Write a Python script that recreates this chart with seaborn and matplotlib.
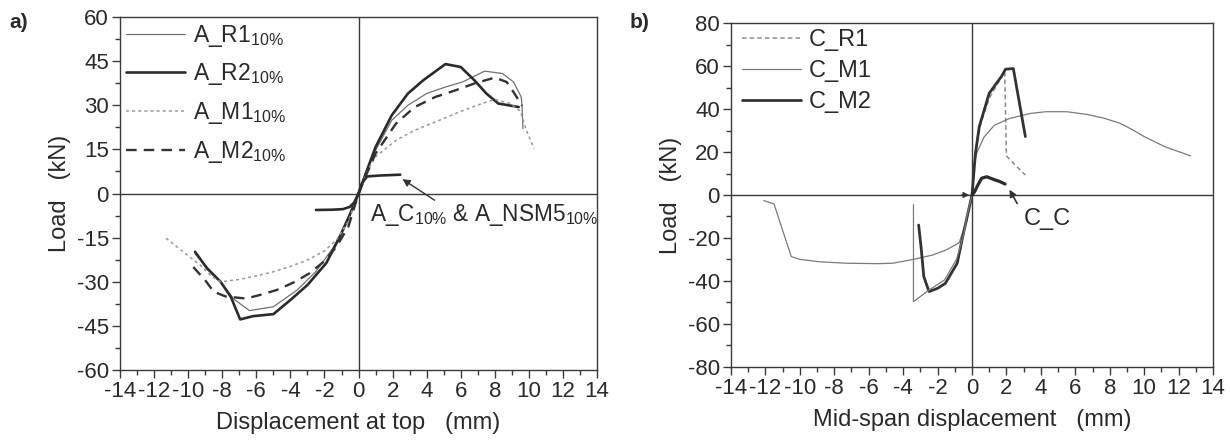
import matplotlib
matplotlib.use("Agg")
import matplotlib.pyplot as plt
import seaborn as sns
from matplotlib.ticker import MultipleLocator

# -----------------------------------
# DATA
# -----------------------------------

# panel a) displacement at top (mm) / load (kN)
a_r1_x = [-9.6, -8.9, -8.1, -7.3, -6.4, -5.0, -3.6, -2.5, -1.5, -0.7, 0, 0.4, 1.0, 1.95, 2.9, 4.0, 5.1, 6.1, 7.4, 8.45, 9.1, 9.55, 9.6, 9.65]
a_r1_y = [-20.5, -25, -30, -36, -39.8, -38.5, -32.8, -26.5, -18.5, -10, 0, 7, 14.7, 24.9, 30, 34, 36.2, 37.9, 41.6, 40.8, 37.9, 32.8, 29.4, 22]

a_r2_x = [-9.6, -8.9, -8.1, -7.5, -6.95, -6.2, -5.0, -4.0, -3.0, -1.9, -1.1, -0.5, 0, 0.5, 1.0, 1.95, 2.9, 3.8, 5.1, 6.0, 6.8, 7.5, 8.2, 9.4]
a_r2_y = [-19.8, -25.4, -30, -35.1, -42.8, -41.7, -41, -36.2, -31.1, -23.7, -14.7, -7, 0, 8, 15.8, 26.6, 34, 38.5, 44, 43, 38.5, 34, 30.6, 29.4]

a_m1_x = [-11.3, -10.3, -9.3, -8.6, -8.1, -7.0, -6.0, -5.0, -4.0, -3.0, -2.0, -1.3, -0.6, 0, 0.5, 1.0, 2.2, 3.3, 4.5, 5.7, 6.8, 8.0, 8.9, 9.5, 9.85, 10.3]
a_m1_y = [-15.2, -19.8, -24.3, -28.3, -30, -29.2, -28, -26.6, -24.8, -22.6, -19.5, -15.8, -9.5, 0, 7.5, 12.5, 18.1, 21.5, 24.3, 27.2, 29.7, 32.0, 30.6, 28.0, 21.5, 15.3]

a_m2_x = [-9.7, -9.0, -8.5, -7.8, -6.6, -5.8, -4.8, -3.8, -2.9, -2.0, -1.3, -0.6, 0, 0.5, 1.0, 2.2, 3.3, 4.5, 5.7, 6.8, 8.0, 8.7, 9.15, 9.6]
a_m2_y = [-25, -29.5, -33.4, -35, -35.7, -34.5, -32.8, -30.2, -27.2, -23, -18.1, -11.3, 0, 7, 13.6, 23.8, 29.4, 32.8, 35.1, 37.4, 39.4, 37.9, 34, 29.8]

a_c_x = [-2.5, -1.5, -0.9, -0.5, -0.25, 0, 0.2, 0.5, 1.2, 2.45]
a_c_y = [-5.6, -5.5, -5.3, -4.5, -3.0, 0, 3.5, 5.8, 6.1, 6.4]

# panel b) mid-span displacement (mm) / load (kN)
c_r1_pos_x = [0, 0.2, 0.5, 1.0, 1.5, 1.9, 2.0, 2.5, 3.1]
c_r1_pos_y = [0, 20, 33, 45, 52, 57.5, 18.2, 14, 9.3]

c_r1_neg_x = [0, -0.3, -0.5, -0.9, -1.6, -2.5, -3.4, -3.4]
c_r1_neg_y = [0, -10, -19, -30, -39.6, -44.3, -49.7, -4.5]

c_m1_x = [-12.1, -11.5, -10.5, -10.0, -8.9, -7.3, -5.5, -4.6, -3.4, -2.3, -1.5, -0.75, -0.3, 0, 0.1, 0.3, 0.7, 1.3, 2.2, 3.4, 4.3, 5.5, 6.7, 7.7, 8.6, 9.3, 10.0, 11.2, 12.7]
c_m1_y = [-2.6, -4.2, -28.7, -30, -31.1, -31.8, -32, -31.8, -30, -28, -25.6, -22.3, -12, 0, 14, 20, 27, 32.5, 35.7, 38, 38.8, 38.8, 37.5, 35.7, 33.4, 30.5, 27.2, 22.5, 18.2]

c_m2_x = [-3.1, -2.95, -2.8, -2.5, -2.0, -1.55, -0.86, -0.5, 0, 0.2, 0.42, 1.0, 1.7, 1.95, 2.4, 3.1]
c_m2_y = [-14, -25, -38, -45, -43.5, -41.2, -31.8, -17.9, 0, 19.4, 31.8, 47.4, 55.1, 58.6, 58.9, 27.2]

c_c_x = [0, 0.15, 0.3, 0.56, 0.85, 1.24, 1.63, 1.92]
c_c_y = [0, 1.5, 4, 7.8, 8.5, 7.3, 6.2, 5.1]

a_labels = ["A_R1$_{10\\%}$", "A_R2$_{10\\%}$", "A_M1$_{10\\%}$", "A_M2$_{10\\%}$"]
b_labels = ["C_R1", "C_M1", "C_M2"]

# -----------------------------------
# STYLE
# -----------------------------------

sns.set_theme(style="white")
plt.rcParams["font.family"] = ["Liberation Sans", "DejaVu Sans"]
plt.rcParams["mathtext.fontset"] = "custom"
plt.rcParams["mathtext.rm"] = "Liberation Sans"
plt.rcParams["mathtext.it"] = "Liberation Sans:italic"
plt.rcParams["axes.unicode_minus"] = False
plt.rcParams["text.color"] = "#2a2a2a"
plt.rcParams["axes.labelcolor"] = "#2a2a2a"

AX = "#3a3a3a"

fig = plt.figure(figsize=(12.3, 4.45), dpi=100)
ax1 = fig.add_axes([0.0976, 0.1685, 0.3878, 0.7933])
ax2 = fig.add_axes([0.5943, 0.176, 0.3919, 0.7717])


def line(ax, x, y, color, lw, ls="-"):
    sns.lineplot(x=x, y=y, ax=ax, sort=False, estimator=None,
                 color=color, linewidth=lw, linestyle=ls)
    return ax.lines[-1]


def frame(ax, ymax, ystep):
    ax.set_xlim(-14, 14)
    ax.set_ylim(-ymax, ymax)
    ax.xaxis.set_major_locator(MultipleLocator(2))
    ax.xaxis.set_minor_locator(MultipleLocator(1))
    ax.yaxis.set_major_locator(MultipleLocator(ystep))
    ax.yaxis.set_minor_locator(MultipleLocator(ystep / 2))
    ax.tick_params(which="both", direction="out", color=AX, width=1,
                   bottom=True, left=True, labelsize=16, labelcolor="#2a2a2a", pad=2)
    ax.tick_params(which="major", length=6)
    ax.tick_params(which="minor", length=3.5)
    for s in ax.spines.values():
        s.set_color(AX)
        s.set_linewidth(1)
    ax.axhline(0, color=AX, lw=1, zorder=1)
    ax.axvline(0, color=AX, lw=1, zorder=1)
    ax.set_ylabel("Load   (kN)", fontsize=17, labelpad=4)


# -----------------------------------
# PANEL a)
# -----------------------------------

frame(ax1, 60, 15)
h = [
    line(ax1, a_r1_x, a_r1_y, "#707070", 0.9),
    line(ax1, a_r2_x, a_r2_y, "#2b2b2b", 1.9),
    line(ax1, a_m1_x, a_m1_y, "#9a9a9a", 1.1, (0, (2, 2))),
    line(ax1, a_m2_x, a_m2_y, "#333333", 1.7, (0, (4.5, 3))),
]
line(ax1, a_c_x, a_c_y, "#2b2b2b", 1.9)
ax1.legend(h, a_labels, loc="upper left", bbox_to_anchor=(0.0, 1.0), frameon=False,
           fontsize=16.5, handlelength=2.6, handletextpad=0.35, labelspacing=0.55,
           borderaxespad=0.2, borderpad=0.05)
ax1.annotate("", xy=(2.44, 5.4), xytext=(4.6, -2.8),
             arrowprops=dict(arrowstyle="-|>", color="#333333", lw=1, mutation_scale=11))
ax1.text(0.67, -7.3, "A_C$_{10\\%}$ & A_NSM5$_{10\\%}$", fontsize=16.3, va="center")
ax1.set_xlabel("Displacement at top   (mm)", fontsize=17, labelpad=7)

# -----------------------------------
# PANEL b)
# -----------------------------------

frame(ax2, 80, 20)
hb = [
    line(ax2, c_r1_pos_x, c_r1_pos_y, "#8a8a8a", 1.1, (0, (3, 2))),
    line(ax2, c_m1_x, c_m1_y, "#7a7a7a", 0.9),
    line(ax2, c_m2_x, c_m2_y, "#333333", 2.0),
]
line(ax2, c_r1_neg_x, c_r1_neg_y, "#7a7a7a", 0.9)
line(ax2, c_c_x, c_c_y, "#2b2b2b", 2.3)
ax2.legend(hb, b_labels, loc="upper left", bbox_to_anchor=(0.01, 1.0), frameon=False,
           fontsize=17, handlelength=2.5, handletextpad=0.35, labelspacing=0.38,
           borderaxespad=0.2, borderpad=0.05)
ax2.annotate("", xy=(2.1, 3.6), xytext=(2.7, -5.1),
             arrowprops=dict(arrowstyle="-|>", color="#333333", lw=1.2, mutation_scale=10))
ax2.annotate("", xy=(0, 0), xytext=(-0.8, 0),
             arrowprops=dict(arrowstyle="-|>", color="#333333", lw=0.8, mutation_scale=9))
ax2.text(3.0, -11.3, "C_C", fontsize=17, va="center")
ax2.set_xlabel("Mid-span displacement   (mm)", fontsize=17, labelpad=7)

fig.text(0.008, 0.95, "a)", fontsize=15, fontweight="bold", va="center")
fig.text(0.512, 0.95, "b)", fontsize=15, fontweight="bold", va="center")

fig.savefig("out.png", dpi=100)
